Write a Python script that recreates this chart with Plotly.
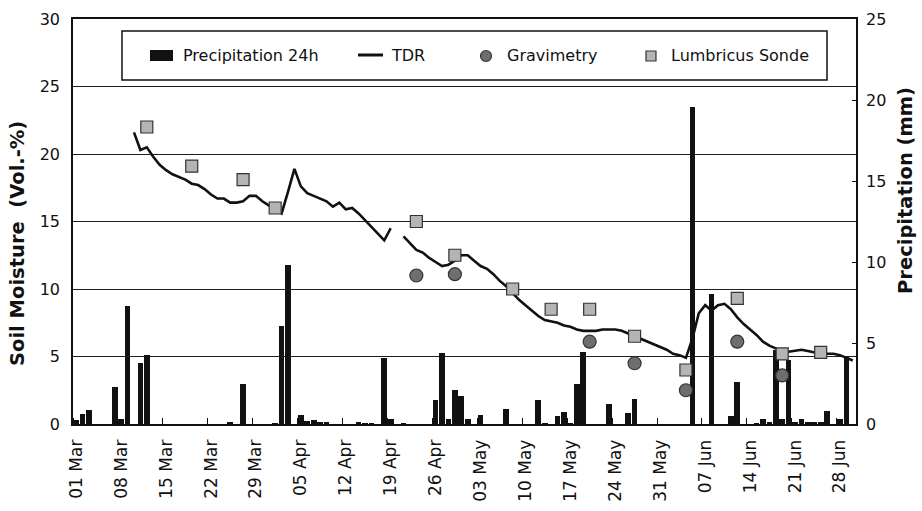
import pandas as pd
import plotly.graph_objects as go

# ---- data -------------------------------------------------------------
precip_dates = [
    "2010-03-01", "2010-03-02", "2010-03-03", "2010-03-07", "2010-03-08",
    "2010-03-09", "2010-03-11", "2010-03-12", "2010-03-25", "2010-03-27",
    "2010-04-01", "2010-04-02", "2010-04-03", "2010-04-05", "2010-04-06",
    "2010-04-07", "2010-04-08", "2010-04-09", "2010-04-14", "2010-04-15",
    "2010-04-16", "2010-04-18", "2010-04-19", "2010-04-21", "2010-04-26",
    "2010-04-27", "2010-04-28", "2010-04-29", "2010-04-30", "2010-05-01",
    "2010-05-03", "2010-05-07", "2010-05-12", "2010-05-13", "2010-05-15",
    "2010-05-16", "2010-05-17", "2010-05-18", "2010-05-19", "2010-05-23",
    "2010-05-26", "2010-05-27", "2010-06-05", "2010-06-08", "2010-06-11",
    "2010-06-12", "2010-06-15", "2010-06-16", "2010-06-17", "2010-06-18",
    "2010-06-19", "2010-06-20", "2010-06-21", "2010-06-22", "2010-06-23",
    "2010-06-24", "2010-06-25", "2010-06-26", "2010-06-28", "2010-06-29",
]
precip_mm = [
    0.25, 0.6, 0.86, 2.3, 0.29,
    7.3, 3.75, 4.26, 0.1, 2.47,
    0.05, 6.05, 9.8, 0.58, 0.2,
    0.25, 0.1, 0.07, 0.1, 0.05,
    0.05, 4.1, 0.3, 0.05, 1.48,
    4.36, 0.3, 2.1, 1.75, 0.3,
    0.55, 0.9, 1.48, 0.05, 0.5,
    0.76, 0.05, 2.5, 4.46, 1.21,
    0.7, 1.54, 19.55, 8.0, 0.52,
    2.57, 0.05, 0.3, 0.07, 4.57,
    0.3, 3.95, 0.1, 0.3, 0.07,
    0.07, 0.07, 0.8, 0.3, 4.16,
]

# daily TDR readings from 10 March to 30 June (None = no reading)
tdr_first_day = "2010-03-10"
tdr_vol = [
    21.6, 20.3, 20.5, 19.8, 19.2, 18.8, 18.5, 18.3, 18.1, 17.8,
    17.7, 17.4, 17.0, 16.7, 16.7, 16.4, 16.4, 16.5, 16.9, 16.9,
    16.5, 16.2, 15.9, 15.6, 17.2, 18.9, 17.6, 17.1, 16.9, 16.7,
    16.5, 16.1, 16.4, 15.9, 16.0, 15.6, 15.1, 14.6, 14.1, 13.6,
    14.5, None, 13.9, 13.4, 12.9, 12.7, 12.3, 12.0, 11.7, 11.8,
    12.1, 12.5, 12.5, 12.1, 11.7, 11.5, 11.1, 10.6, 10.2, 9.7,
    9.2, 8.8, 8.4, 8.0, 7.7, 7.6, 7.5, 7.3, 7.2, 7.0,
    6.9, 6.9, 6.9, 7.0, 7.0, 7.0, 6.9, 6.7, 6.5, 6.3,
    6.1, 5.9, 5.7, 5.5, 5.2, 5.1, 4.9, 6.3, 8.2, 8.8,
    8.4, 8.8, 8.9, 8.5, 7.9, 7.4, 7.0, 6.6, 6.1, 5.8,
    5.6, 5.4, 5.35, 5.45, 5.5, 5.4, 5.3, 5.2, 5.2, 5.2,
    5.1, 4.9, 4.7,
]

grav_dates = ["2010-04-23", "2010-04-29", "2010-05-20", "2010-05-27",
              "2010-06-04", "2010-06-12", "2010-06-19"]
grav_vol = [11.0, 11.1, 6.1, 4.5, 2.5, 6.1, 3.6]

sonde_dates = ["2010-03-12", "2010-03-19", "2010-03-27", "2010-04-01",
               "2010-04-23", "2010-04-29", "2010-05-08", "2010-05-14",
               "2010-05-20", "2010-05-27", "2010-06-04", "2010-06-12",
               "2010-06-19", "2010-06-25"]
sonde_vol = [22.0, 19.1, 18.1, 16.0, 15.0, 12.5, 10.0, 8.5,
             8.5, 6.5, 4.0, 9.3, 5.2, 5.3]

label_days = pd.date_range("2010-03-01", "2010-06-28", freq="7D")
week_edges = pd.date_range("2010-02-28 12:00", "2010-06-30 12:00", freq="7D")

tdr_days = pd.date_range(tdr_first_day, periods=len(tdr_vol), freq="D")

# ---- styling ----------------------------------------------------------
FONT = "DejaVu Sans"
INK = "#111111"
DAY_MS = 86400000

W, H = 922, 511
L, R, T, B = 73, 856, 19, 424


def px(x):
    return (x - L) / (R - L)


def py(y):
    return (B - y) / (B - T)


fig = go.Figure()

fig.add_trace(go.Bar(
    x=precip_dates, y=precip_mm, name="Precipitation 24h",
    marker=dict(color=INK, line=dict(width=0)),
    width=0.88 * DAY_MS, yaxis="y", showlegend=False,
))
fig.add_trace(go.Scatter(
    x=tdr_days, y=tdr_vol, name="TDR", mode="lines",
    line=dict(color=INK, width=2.6), connectgaps=False,
    yaxis="y2", showlegend=False,
))
fig.add_trace(go.Scatter(
    x=grav_dates, y=grav_vol, name="Gravimetry", mode="markers",
    marker=dict(symbol="circle", size=13, color="#6e6e6e",
                line=dict(color="#333333", width=1.2)),
    yaxis="y2", showlegend=False,
))
fig.add_trace(go.Scatter(
    x=sonde_dates, y=sonde_vol, name="Lumbricus Sonde", mode="markers",
    marker=dict(symbol="square", size=12, color="#b4b4b4",
                line=dict(color="#333333", width=1.2)),
    yaxis="y2", showlegend=False,
))

fig.update_layout(
    width=W, height=H,
    margin=dict(l=L, r=W - R, t=T, b=H - B, pad=0, autoexpand=False),
    paper_bgcolor="white", plot_bgcolor="white",
    font=dict(family=FONT, color=INK, size=16),
    bargap=0,
    xaxis=dict(
        type="date", automargin=False,
        range=["2010-02-28 12:00", "2010-06-30 12:00"],
        tickmode="array", tickvals=label_days,
        tickformat="%d %b", tickangle=-90,
        tickfont=dict(size=17, family=FONT, color=INK),
        ticks="", ticklabelstandoff=7,
        showgrid=False, zeroline=False,
        showline=True, linecolor=INK, linewidth=1.6, mirror=True,
        minor=dict(tickmode="array", tickvals=week_edges,
                   ticks="inside", ticklen=6, tickcolor=INK, tickwidth=1,
                   showgrid=False),
    ),
    yaxis=dict(
        side="right", range=[0, 25], tickmode="linear", tick0=0, dtick=5,
        automargin=False,
        ticks="inside", ticklen=4, tickcolor=INK,
        tickfont=dict(size=16, family=FONT, color=INK),
        ticklabelstandoff=5,
        showgrid=False, zeroline=False,
        showline=True, linecolor=INK, linewidth=1.6,
    ),
    yaxis2=dict(
        side="left", overlaying="y", range=[0, 30], tickmode="linear",
        automargin=False,
        tick0=0, dtick=5, ticks="",
        tickfont=dict(size=16, family=FONT, color=INK),
        ticklabelstandoff=8,
        showgrid=True, gridcolor="#1e1e1e", gridwidth=1.2,
        zeroline=False,
        showline=True, linecolor=INK, linewidth=1.6,
    ),
)

# axis titles
fig.add_annotation(
    text="Soil Moisture\u00a0\u00a0(Vol.-%)", textangle=-90,
    xref="paper", yref="paper", x=px(17), y=py(244),
    xanchor="center", yanchor="middle", showarrow=False,
    font=dict(family=FONT, size=19.5, color=INK, weight="bold"),
)
fig.add_annotation(
    text="Precipitation (mm)", textangle=-90,
    xref="paper", yref="paper", x=px(905), y=py(191),
    xanchor="center", yanchor="middle", showarrow=False,
    font=dict(family=FONT, size=19.5, color=INK, weight="bold"),
)

# legend frame
fig.add_shape(type="rect", xref="paper", yref="paper",
              x0=px(122), x1=px(827), y0=py(80), y1=py(31),
              line=dict(color=INK, width=1.5), fillcolor="white",
              layer="above")
# legend keys
fig.add_shape(type="rect", xref="paper", yref="paper",
              x0=px(150), x1=px(173), y0=py(61), y1=py(50),
              line=dict(width=0), fillcolor=INK, layer="above")
fig.add_shape(type="line", xref="paper", yref="paper",
              x0=px(358), x1=px(383), y0=py(55), y1=py(55),
              line=dict(color=INK, width=3), layer="above")
fig.add_shape(type="circle", xref="paper", yref="paper",
              x0=px(480.5), x1=px(491.5), y0=py(61.5), y1=py(50.5),
              line=dict(color="#333333", width=1.2), fillcolor="#6e6e6e",
              layer="above")
fig.add_shape(type="rect", xref="paper", yref="paper",
              x0=px(646), x1=px(656), y0=py(61), y1=py(51),
              line=dict(color="#333333", width=1.2), fillcolor="#b4b4b4",
              layer="above")

legend_items = [("Precipitation 24h", 181), ("TDR", 389),
                ("Gravimetry", 505), ("Lumbricus Sonde", 669)]
for label, left in legend_items:
    fig.add_annotation(
        text=label, xref="paper", yref="paper", x=px(left), y=py(55.5),
        xanchor="left", yanchor="middle", showarrow=False,
        font=dict(family=FONT, size=16, color=INK),
    )

fig.write_html("out.html")
